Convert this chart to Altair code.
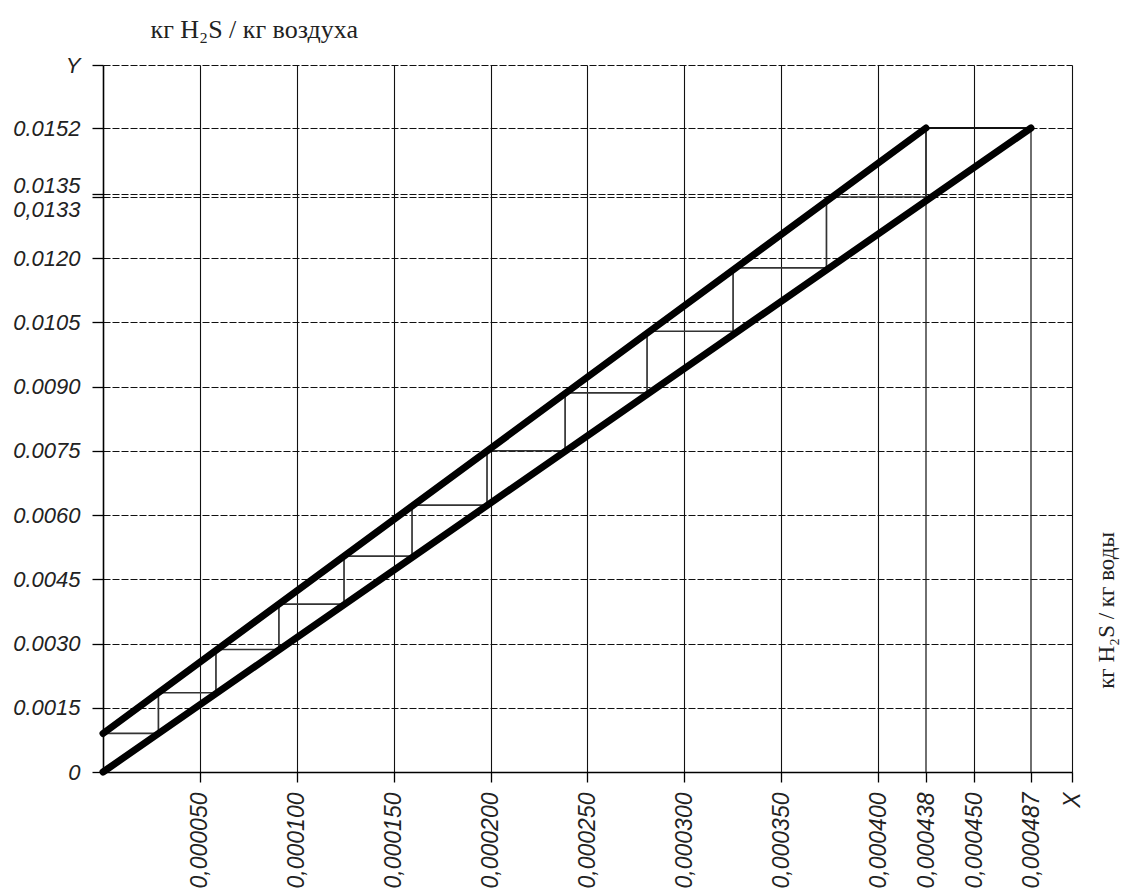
import altair as alt
import pandas as pd

# ---- axis ticks and labels (as printed on the chart) ----
Y_TICKS = [0, 0.0015, 0.0030, 0.0045, 0.0060, 0.0075, 0.0090, 0.0105, 0.0120,
           0.0133, 0.0135, 0.0152, 0.0165]
Y_LABELS = ["0", "0.0015", "0.0030", "0.0045", "0.0060", "0.0075", "0.0090",
            "0.0105", "0.0120", "0,0133", "0.0135", "0.0152", "Y"]
X_TICKS = [0.00005, 0.0001, 0.00015, 0.0002, 0.00025, 0.0003, 0.00035, 0.0004,
           0.000438, 0.00045, 0.000487, 0.0005]
X_LABELS = ["0,000050", "0,000100", "0,000150", "0,000200", "0,000250",
            "0,000300", "0,000350", "0,000400", "0,000438", "0,000450",
            "0,000487", "X"]

# ---- lines ----
EQ_X = [0, 0.000487]          # equilibrium line
EQ_Y = [0, 0.0152]
OP_X = [0, 0.000438]          # operating line
OP_Y = [0.0009, 0.0152]

# ---- staircase ----
STEP_X = [0.0000286, 0.0000583, 0.0000908, 0.0001244, 0.0001595, 0.0001982,
          0.0002385, 0.0002808, 0.0003252, 0.0003734, 0.000438]
STEP_Y = [0.0009, 0.00185, 0.00286, 0.00392, 0.00504, 0.00623, 0.0075,
          0.00885, 0.01029, 0.01177, 0.0133]
TOP_Y = 0.0152

# scale breakpoints (the drawing is not uniform near the top/right ends)
X_BREAKS = [0, 0.0004, 0.000438, 0.00045, 0.000487, 0.0005]
Y_BREAKS = [0, 0.0120, 0.0133, 0.0135, 0.0152, 0.0165]

W, H = 969, 707

lines_df = pd.DataFrame({
    "x": EQ_X + OP_X,
    "y": EQ_Y + OP_Y,
    "s": ["eq", "eq", "op", "op"],
})

sx, sy = [0], [STEP_Y[0]]
for i, xv in enumerate(STEP_X):
    sx.append(xv); sy.append(STEP_Y[i])
    sx.append(xv); sy.append(STEP_Y[i + 1] if i + 1 < len(STEP_Y) else TOP_Y)
stairs_df = pd.DataFrame({"x": sx, "y": sy, "o": list(range(len(sx)))})

top_df = pd.DataFrame({"x": [OP_X[1]], "x2": [EQ_X[1]], "y": [TOP_Y]})
drop_df = pd.DataFrame({"x": [OP_X[1], EQ_X[1]], "y": [0, 0], "y2": [TOP_Y, TOP_Y]})


def label_expr(vals, labs):
    parts = [f"datum.value == {v} ? '{l}'" for v, l in zip(vals, labs)]
    return " : ".join(parts) + " : ''"


x_scale = alt.Scale(domain=X_BREAKS, range=[0, 775, 823, 871, 928, W],
                    nice=False, zero=False)
y_scale = alt.Scale(domain=Y_BREAKS, range=[H, 193, 132, 128.5, 63, 0],
                    nice=False, zero=False)

x_axis = alt.Axis(
    values=X_TICKS, labelExpr=label_expr(X_TICKS, X_LABELS),
    labelAngle=270, tickSize=10, labelPadding=10, labelFontSize=23,
    grid=True, gridDash=[1, 0],
    gridOpacity={"condition": {"test": "datum.value == 0.000438 || datum.value == 0.000487",
                               "value": 0}, "value": 1},
    labelOverlap=False, labelFlush=False,
    title="кг H₂S / кг воды", titleAngle=270, titleX=1003, titleY=-162,
    titleAlign="center", titleBaseline="middle", titleFontSize=23,
)
y_axis = alt.Axis(
    values=Y_TICKS, labelExpr=label_expr(Y_TICKS, Y_LABELS),
    tickSize=11, labelPadding=12, labelFontSize=22, grid=True, gridDash=[7, 2],
    labelOverlap=False, labelFlush=False,
    labelOffset={"condition": [{"test": "datum.value == 0.0135", "value": -8},
                               {"test": "datum.value == 0.0133", "value": 12}],
                 "value": 0},
    title="кг H₂S / кг воздуха", titleAngle=0, titleX=47, titleY=-28,
    titleAlign="left", titleBaseline="alphabetic", titleFontSize=26,
)

X = alt.X("x:Q", scale=x_scale, axis=x_axis)
Y = alt.Y("y:Q", scale=y_scale, axis=y_axis)

main = alt.Chart(lines_df).mark_line(color="black", strokeWidth=7, strokeCap="round").encode(
    x=X, y=Y, detail="s:N")
stairs = alt.Chart(stairs_df).mark_line(color="#333", strokeWidth=1.7).encode(
    x=X, y=Y, order="o:Q")
top = alt.Chart(top_df).mark_rule(color="#111", strokeWidth=2).encode(
    x=X, x2="x2:Q", y=Y)
drops = alt.Chart(drop_df).mark_rule(color="#222", strokeWidth=1.3).encode(
    x=X, y=Y, y2="y2:Q")

chart = alt.layer(drops, top, stairs, main).properties(
    width=W, height=H,
    autosize=alt.AutoSizeParams(type="none"),
    padding={"left": 95, "top": 57, "right": 48, "bottom": 118},
).configure_view(strokeWidth=0).configure_axis(
    domainColor="black", domainWidth=1.6, tickColor="black", tickWidth=1.3,
    gridColor="#111", gridWidth=1.1,
    labelFont="Liberation Sans", labelFontStyle="italic",
    labelColor="#222",
    titleFont="Liberation Serif", titleFontWeight="normal",
    titleColor="#222",
)

chart.save("out.html", embed_options={"renderer": "svg", "actions": False})
